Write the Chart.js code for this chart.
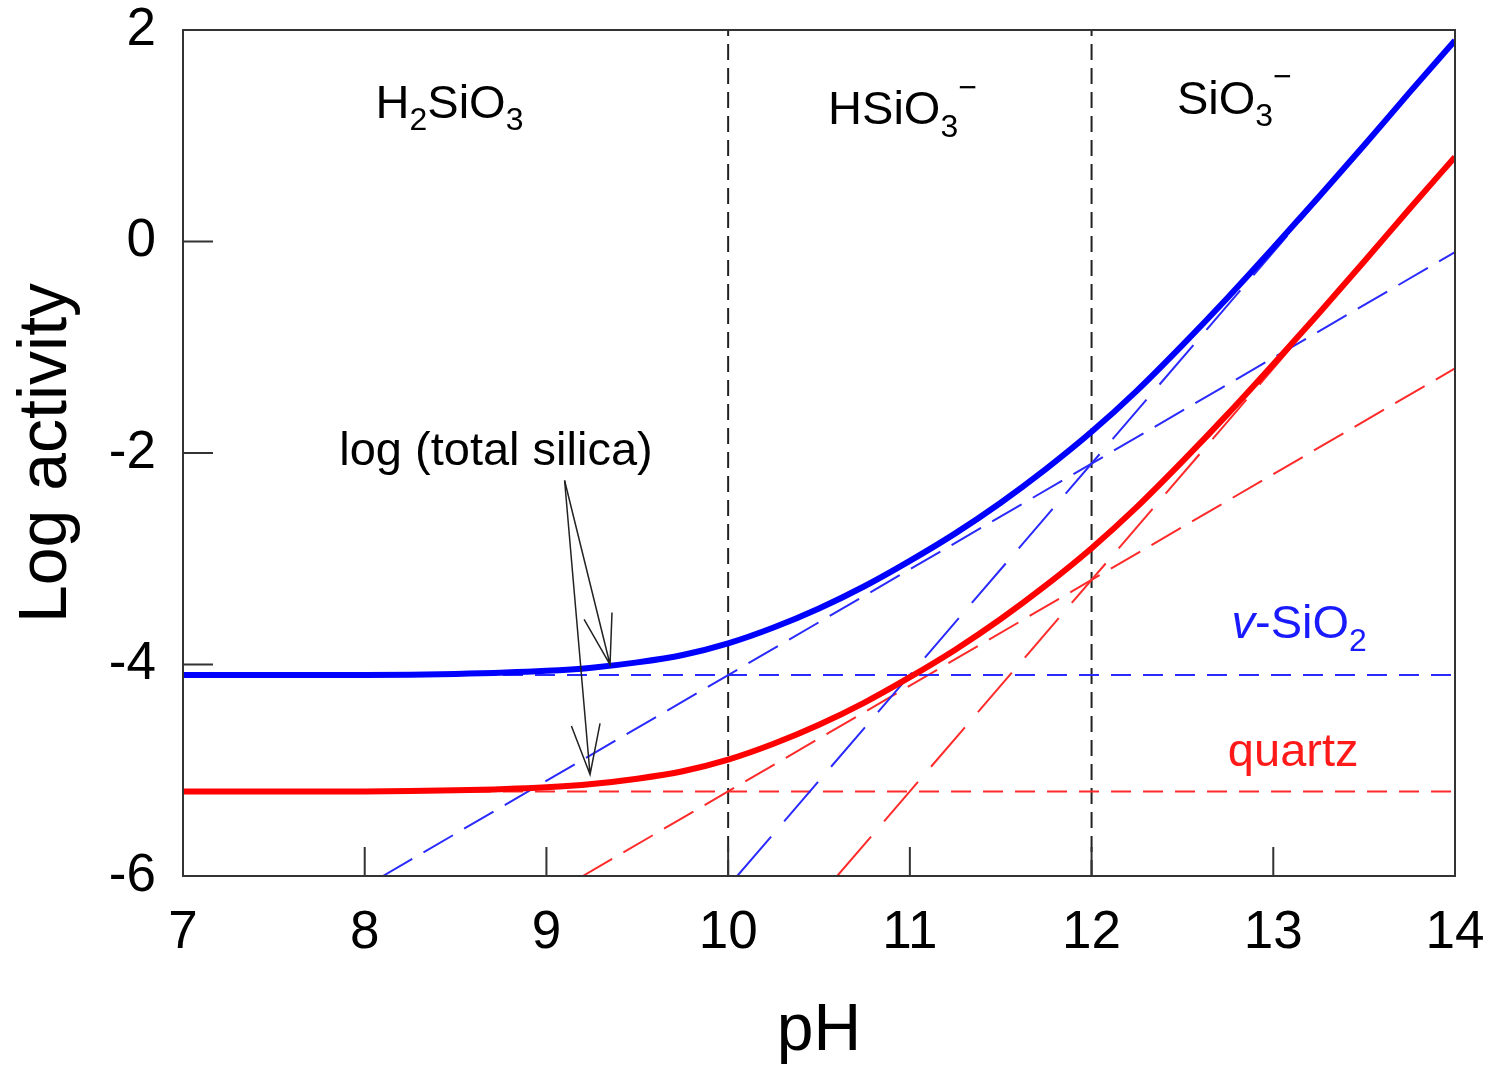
<!DOCTYPE html>
<html>
<head>
<meta charset="utf-8">
<script src="https://cdn.jsdelivr.net/npm/chart.js@4.4.0/dist/chart.umd.min.js"></script>
<style>
  html, body { margin: 0; padding: 0; background: #fff; }
</style>
</head>
<body>
<canvas id="myChart" width="1497" height="1071"></canvas>
<script>
// pH grid for the total silica curves
const phValues = [7, 7.5, 8, 8.5, 9, 9.25, 9.5, 9.75, 10, 10.25, 10.5, 10.75, 11, 11.25, 11.5, 11.75, 12, 12.25, 12.5, 12.75, 13, 13.25, 13.5, 13.75, 14];
// log (total silica) in equilibrium with v-SiO2 and with quartz
const vSilicaTotal = [-4.10, -4.10, -4.10, -4.09, -4.06, -4.03, -3.98, -3.91, -3.80, -3.65, -3.47, -3.26, -3.02, -2.76, -2.47, -2.15, -1.80, -1.41, -0.98, -0.53, -0.06, 0.42, 0.91, 1.41, 1.90];
const quartzTotal = [-5.20, -5.20, -5.20, -5.19, -5.16, -5.13, -5.08, -5.01, -4.90, -4.75, -4.57, -4.36, -4.12, -3.86, -3.57, -3.25, -2.90, -2.51, -2.08, -1.63, -1.16, -0.68, -0.19, 0.31, 0.80];

// single species lines (end points)
const vH2SiO3 = [[7, -4.1], [14, -4.1]];
const vHSiO3 = [[8.1, -6], [14, -0.1]];
const vSiO3 = [[10.05, -6], [14, 1.9]];
const qH2SiO3 = [[7, -5.2], [14, -5.2]];
const qHSiO3 = [[9.2, -6], [14, -1.2]];
const qSiO3 = [[10.6, -6], [14, 0.8]];

// pK boundaries
const pkValues = [10, 12];

// tick labels
const xTicks = [7, 8, 9, 10, 11, 12, 13, 14];
const yTicks = [-6, -4, -2, 0, 2];

const FONT = '"Liberation Sans", Arial, sans-serif';

function pts(arr) {
    return arr.map(p => ({ x: p[0], y: p[1] }));
}

function curve(values) {
    return phValues.map((ph, i) => ({ x: ph, y: values[i] }));
}

function dashed(data, color, dash) {
    return {
        data: pts(data),
        borderColor: color,
        borderWidth: 2,
        borderDash: dash,
        showLine: true,
        pointRadius: 0
    };
}

// 화학식 그리기 (아래첨자/위첨자)
function drawFormula(ctx, parts, x, y, size, color) {
    let cx = x;
    ctx.fillStyle = color;
    ctx.textBaseline = 'alphabetic';
    ctx.textAlign = 'left';
    parts.forEach(([txt, kind]) => {
        let fs = size, dy = 0, style = '';
        if (kind === 'sub') { fs = size * 0.68; dy = size * 0.27; }
        if (kind === 'sup') { fs = size * 0.68; dy = -size * 0.56; }
        if (kind === 'it') { style = 'italic '; }
        ctx.font = style + fs + 'px ' + FONT;
        ctx.fillText(txt, cx, y + dy);
        cx += ctx.measureText(txt).width;
    });
}

function drawArrow(ctx, x0, y0, x1, y1) {
    const ang = Math.atan2(y0 - y1, x0 - x1);
    const len = 52, spread = 0.28;
    ctx.beginPath();
    ctx.moveTo(x0, y0);
    ctx.lineTo(x1, y1);
    ctx.moveTo(x1 + len * Math.cos(ang - spread), y1 + len * Math.sin(ang - spread));
    ctx.lineTo(x1, y1);
    ctx.lineTo(x1 + len * Math.cos(ang + spread), y1 + len * Math.sin(ang + spread));
    ctx.stroke();
}

const framePlugin = {
    id: 'frame',
    afterDatasetsDraw(chart) {
        const { ctx, chartArea: a, scales: { x, y } } = chart;
        ctx.save();
        ctx.strokeStyle = '#333';
        ctx.lineWidth = 2;
        ctx.strokeRect(a.left, a.top, a.right - a.left, a.bottom - a.top);
        ctx.beginPath();
        xTicks.forEach(v => {
            const px = x.getPixelForValue(v);
            ctx.moveTo(px, a.bottom);
            ctx.lineTo(px, a.bottom - 29);
        });
        yTicks.forEach(v => {
            const py = y.getPixelForValue(v);
            ctx.moveTo(a.left, py);
            ctx.lineTo(a.left + 30, py);
        });
        ctx.stroke();
        ctx.restore();
    },
    afterDraw(chart) {
        const { ctx, scales: { x, y } } = chart;
        const X = v => x.getPixelForValue(v);
        const Y = v => y.getPixelForValue(v);
        ctx.save();
        // species regions
        drawFormula(ctx, [['H'], ['2', 'sub'], ['SiO'], ['3', 'sub']], X(8.06), Y(1.17), 47, '#000');
        drawFormula(ctx, [['HSiO'], ['3', 'sub'], ['\u2212', 'sup']], X(10.55), Y(1.11), 47, '#000');
        drawFormula(ctx, [['SiO'], ['3', 'sub'], ['\u2212', 'sup']], X(12.47), Y(1.21), 47, '#000');
        // solid phase labels
        drawFormula(ctx, [['v', 'it'], ['-SiO'], ['2', 'sub']], X(12.77), Y(-3.75), 47, '#1a1aff');
        drawFormula(ctx, [['quartz']], X(12.75), Y(-4.96), 47, '#ff1a1a');
        // total silica label with arrows
        drawFormula(ctx, [['log (total silica)']], X(7.86), Y(-2.11), 47, '#000');
        ctx.strokeStyle = '#222';
        ctx.lineWidth = 1.5;
        drawArrow(ctx, X(9.1), Y(-2.26), X(9.35), Y(-4.0));
        drawArrow(ctx, X(9.1), Y(-2.26), X(9.24), Y(-5.04));
        ctx.restore();
    }
};

const datasets = [
    { data: curve(vSilicaTotal), borderColor: '#0000ff', borderWidth: 6, showLine: true, pointRadius: 0, cubicInterpolationMode: 'monotone' },
    { data: curve(quartzTotal), borderColor: '#ff0000', borderWidth: 6, showLine: true, pointRadius: 0, cubicInterpolationMode: 'monotone' },
    dashed(vH2SiO3, '#2a2aff', [20, 12]),
    dashed(vHSiO3, '#2a2aff', [34, 13]),
    dashed(vSiO3, '#2a2aff', [52, 20]),
    dashed(qH2SiO3, '#ff2a2a', [20, 12]),
    dashed(qHSiO3, '#ff2a2a', [34, 13]),
    dashed(qSiO3, '#ff2a2a', [52, 20])
];
pkValues.forEach(pk => {
    datasets.push(dashed([[pk, -6], [pk, 2]], '#222', [16, 8]));
});

const ctx = document.getElementById('myChart').getContext('2d');
const myChart = new Chart(ctx, {
    type: 'scatter',
    data: { datasets: datasets },
    plugins: [framePlugin],
    options: {
        responsive: false,
        animation: false,
        layout: { padding: { top: 30, right: 42, left: 0, bottom: 0 } },
        plugins: {
            legend: { display: false },
            tooltip: { enabled: false }
        },
        scales: {
            x: {
                type: 'linear',
                min: 7,
                max: 14,
                afterBuildTicks: s => { s.ticks = xTicks.map(v => ({ value: v })); },
                afterFit: s => { s.height = 195; s.paddingLeft = 0; s.paddingRight = 0; },
                grid: { display: false, drawTicks: false },
                border: { display: false },
                ticks: { font: { family: FONT, size: 53 }, color: '#000', padding: 26, maxRotation: 0, autoSkip: false },
                title: { display: true, text: 'pH', font: { family: FONT, size: 66 }, color: '#000', padding: 0 }
            },
            y: {
                type: 'linear',
                min: -6,
                max: 2,
                afterBuildTicks: s => { s.ticks = yTicks.map(v => ({ value: v })); },
                afterFit: s => { s.width = 183; s.paddingTop = 0; s.paddingBottom = 0; },
                grid: { display: false, drawTicks: false },
                border: { display: false },
                ticks: { font: { family: FONT, size: 53 }, color: '#000', padding: 27, autoSkip: false },
                title: { display: true, text: 'Log activity', font: { family: FONT, size: 68 }, color: '#000', padding: { top: 6, bottom: 0 } }
            }
        }
    }
});
</script>
</body>
</html>
